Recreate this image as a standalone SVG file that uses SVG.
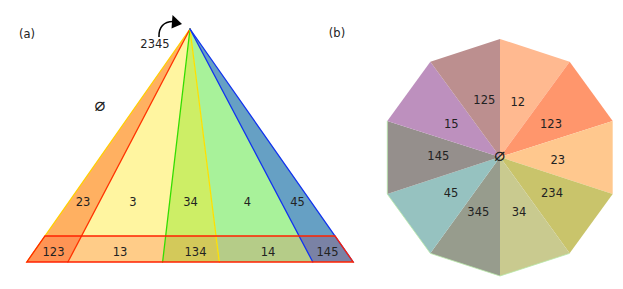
<svg xmlns="http://www.w3.org/2000/svg" width="623" height="289" viewBox="0 0 623 289">
<style>
text{font-family:"DejaVu Sans","Liberation Sans",sans-serif;font-size:11.5px;fill:#222;text-anchor:middle}
text.es{font-family:"DejaVu Sans Mono","DejaVu Sans",sans-serif;font-size:18px}
.ln{fill:none;stroke-width:1.3;stroke-linecap:round}
</style>
<rect width="623" height="289" fill="#fff"/>
<g id="labels-panels">
<text x="27" y="37.5">(a)</text>
<text x="337" y="36.5">(b)</text>
</g>
<g id="triangle-regions">
<polygon id="r23" points="190,29 45,236 81.5,236" fill="#FFB061"/>
<polygon id="r3" points="190,29 81.5,236 165.7,236" fill="#FFF5A0"/>
<polygon id="r34" points="190,29 165.7,236 216,236" fill="#CDEE66"/>
<polygon id="r4" points="190,29 216,236 299.1,236" fill="#A8F29A"/>
<polygon id="r45" points="190,29 299.1,236 335,236" fill="#66A0C4"/>
<polygon id="r123" points="45,236 81.5,236 67.9,262 26.8,262" fill="#FF9455"/>
<polygon id="r13" points="81.5,236 165.7,236 162.6,262 67.9,262" fill="#FFCC88"/>
<polygon id="r134" points="165.7,236 216,236 219.3,262 162.6,262" fill="#D3C95A"/>
<polygon id="r14" points="216,236 299.1,236 312.8,262 219.3,262" fill="#B5CC88"/>
<polygon id="r145" points="299.1,236 335,236 353.2,262 312.8,262" fill="#7A82A5"/>
</g>
<g id="connectors">
<line class="ln" x1="190" y1="29" x2="26.8" y2="262" stroke="#FFD000"/>
<line class="ln" x1="190" y1="29" x2="67.9" y2="262" stroke="#FF3300"/>
<line class="ln" x1="190" y1="29" x2="162.6" y2="262" stroke="#33DD00"/>
<line class="ln" x1="190" y1="29" x2="219.3" y2="262" stroke="#FFE000"/>
<line class="ln" x1="190" y1="29" x2="312.8" y2="262" stroke="#1133EE"/>
<line class="ln" x1="190" y1="29" x2="353.2" y2="262" stroke="#1133EE"/>
<polygon class="ln" points="45,236 335,236 353.2,262 26.8,262" stroke="#FF2200"/>
<path d="M159,37 C158.5,27 164,21.5 173,21.5" fill="none" stroke="#000" stroke-width="1.6"/>
<polygon points="182,24 172.5,15 171.5,28.5" fill="#000"/>
</g>
<g id="triangle-labels">
<text x="155" y="48">2345</text>
<text class="es" x="100" y="112">∅</text>
<text x="83" y="206">23</text>
<text x="133" y="206">3</text>
<text x="190.5" y="206">34</text>
<text x="247.5" y="206">4</text>
<text x="297.5" y="206">45</text>
<text x="53.5" y="255.5">123</text>
<text x="120" y="255.5">13</text>
<text x="195.5" y="255.5">134</text>
<text x="268" y="255.5">14</text>
<text x="327.5" y="255.5">145</text>
</g>
<g id="decagon">
<polygon id="w12" points="500,157 500,39 569.65,61.63" fill="#FFB990"/>
<polygon id="w123" points="500,157 569.65,61.63 612.7,120.88" fill="#FF966C"/>
<polygon id="w23" points="500,157 612.7,120.88 612.7,194.12" fill="#FFC88E"/>
<polygon id="w234" points="500,157 612.7,194.12 569.65,253.37" fill="#C9C46B"/>
<polygon id="w34" points="500,157 569.65,253.37 500,276" fill="#C9CA8F"/>
<polygon id="w345" points="500,157 500,276 430.35,253.37" fill="#979C8D"/>
<polygon id="w45" points="500,157 430.35,253.37 387.3,194.12" fill="#96C2C0"/>
<polygon id="w145" points="500,157 387.3,194.12 387.3,120.88" fill="#958F8C"/>
<polygon id="w15" points="500,157 387.3,120.88 430.35,61.63" fill="#BD90BE"/>
<polygon id="w125" points="500,157 430.35,61.63 500,39" fill="#BC8F8F"/>
<polyline points="387.3,120.88 387.3,194.12 430.35,253.37 500,276 569.65,253.37" fill="none" stroke="#B8E8A8" stroke-width="0.8"/>
</g>
<g id="decagon-labels">
<text x="484.3" y="104.2">125</text>
<text x="517.7" y="106">12</text>
<text x="551" y="127.5">123</text>
<text x="451.3" y="127.5">15</text>
<text x="438.3" y="160.2">145</text>
<text x="557.7" y="163.5">23</text>
<text x="451" y="197">45</text>
<text x="552" y="196.5">234</text>
<text x="478.3" y="216">345</text>
<text x="519" y="216">34</text>
<text class="es" x="499.7" y="162">∅</text>
</g>
</svg>
